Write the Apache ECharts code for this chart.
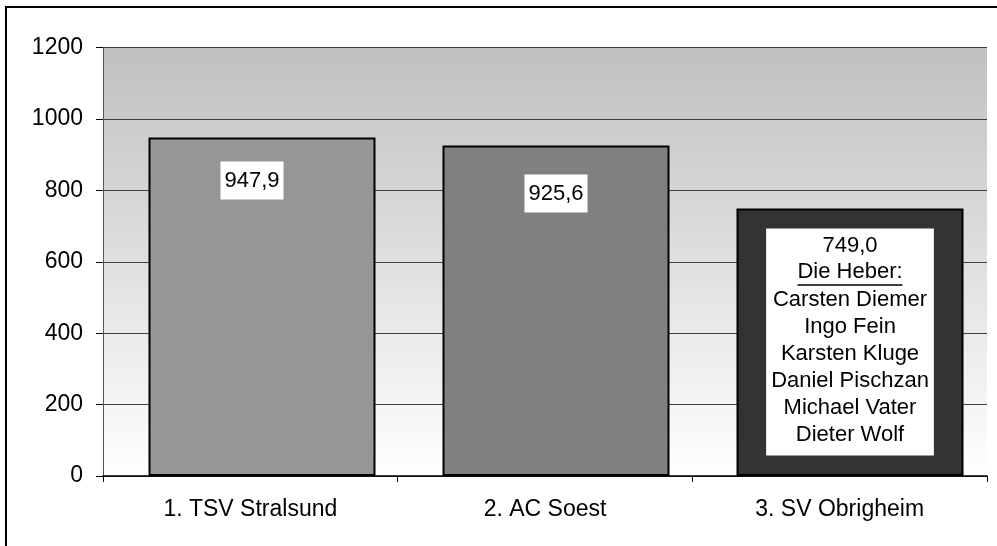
<!DOCTYPE html>
<html>
<head>
<meta charset="utf-8">
<script src="https://cdn.jsdelivr.net/npm/echarts@6/dist/echarts.min.js"></script>
<style>
html,body{margin:0;padding:0;background:#fff;}
#c{width:997px;height:546px;}
</style>
</head>
<body>
<div id="c"></div>
<script>
const categories = ['1. TSV Stralsund', '2. AC Soest', '3. SV Obrigheim'];
const values = [947.9, 925.6, 749.0];
const barColors = ['#969696', '#808080', '#333333'];
const lifterTitle = 'Die Heber:';
const lifters = ['Carsten Diemer', 'Ingo Fein', 'Karsten Kluge', 'Daniel Pischzan', 'Michael Vater', 'Dieter Wolf'];
const yMin = 0, yMax = 1200, yInterval = 200;

const FONT = '"Liberation Sans", Arial, sans-serif';
function fmt(v) { return v.toFixed(1).replace('.', ','); }
function measure(t, size) {
  const ctx = document.createElement('canvas').getContext('2d');
  ctx.font = size + 'px "Liberation Sans", Arial';
  return ctx.measureText(t).width;
}
const ulWidth = Math.round(measure(lifterTitle, 22));

const labelDistances = [24, 29, 20];
const labelOffsets = [[-10, 0], [0, 0], [0, 0]];

const data = values.map((v, i) => {
  const item = {
    value: v,
    itemStyle: { color: barColors[i] },
    label: {
      distance: labelDistances[i],
      offset: labelOffsets[i]
    }
  };
  if (i === 2) {
    item.label.formatter = function (p) {
      return '{n|' + fmt(p.value) + '}\n{h|' + lifterTitle + '}\n{ul| }\n' +
        lifters.map(n => '{n|' + n + '}').join('\n');
    };
    item.label.padding = [4, 5, 7, 5];
    item.label.rich = {
      n: { fontSize: 22, lineHeight: 27, fontFamily: FONT, color: '#000' },
      h: { fontSize: 22, lineHeight: 24, fontFamily: FONT, color: '#000' },
      ul: { fontSize: 1, width: ulWidth, height: 1.5, lineHeight: 3, backgroundColor: '#000' }
    };
  }
  return item;
});

const chart = echarts.init(document.getElementById('c'), null, { renderer: 'canvas' });
const gridTop = 47.5, gridHeight = 428.5;
chart.setOption({
  animation: false,
  backgroundColor: '#fff',
  graphic: [{
    type: 'rect',
    shape: { x: 6, y: 7, width: 1100, height: 700 },
    style: { fill: 'none', stroke: '#000', lineWidth: 2 },
    z: 100
  }],
  grid: [
    {
      left: 103, top: gridTop, width: 884, height: gridHeight,
      show: true, borderWidth: 0,
      backgroundColor: {
        type: 'linear', x: 0, y: 0, x2: 0, y2: 1,
        colorStops: [{ offset: 0, color: '#c0c0c0' }, { offset: 1, color: '#ffffff' }]
      }
    },
    { left: 115, top: gridTop, width: 884, height: gridHeight, show: false }
  ],
  xAxis: [
    {
      type: 'category', gridIndex: 0, data: categories,
      axisLine: { lineStyle: { color: '#000', width: 1.5 } },
      axisTick: { show: true, length: 6, alignWithLabel: false, lineStyle: { color: '#000' } },
      axisLabel: { fontSize: 23, fontFamily: FONT, color: '#000', margin: 22 },
      splitLine: { show: false }
    },
    {
      type: 'category', gridIndex: 1, data: categories, show: false
    }
  ],
  yAxis: [
    {
      type: 'value', gridIndex: 0, min: yMin, max: yMax, interval: yInterval,
      axisLine: { show: true, lineStyle: { color: '#555', width: 1 } },
      axisTick: { show: true, length: 7, lineStyle: { color: '#000' } },
      axisLabel: { fontSize: 23, fontFamily: FONT, color: '#000', margin: 20, formatter: v => String(v) },
      splitLine: { show: true, lineStyle: { color: '#404040', width: 1 } }
    },
    {
      type: 'value', gridIndex: 1, min: yMin, max: yMax, interval: yInterval, show: false,
      splitLine: { show: false }
    }
  ],
  series: [{
    type: 'bar',
    xAxisIndex: 1, yAxisIndex: 1,
    data: data,
    barWidth: 227,
    itemStyle: { borderColor: '#000', borderWidth: 2 },
    label: {
      show: true,
      position: 'insideTop',
      formatter: p => fmt(p.value),
      backgroundColor: '#fff',
      padding: [8, 4],
      fontSize: 22,
      fontFamily: FONT,
      color: '#000',
      lineHeight: 22
    }
  }]
});
</script>
</body>
</html>
